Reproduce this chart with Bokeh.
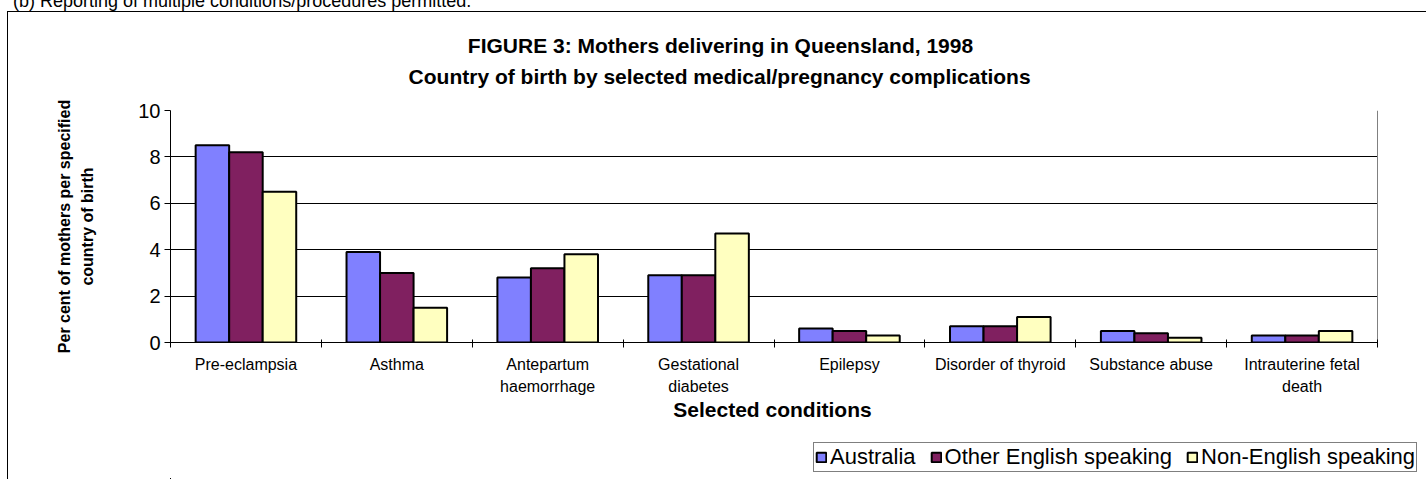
from bokeh.plotting import figure
from bokeh.layouts import column
from bokeh.models import (Range1d, FixedTicker, ColumnDataSource, Legend, LegendItem, Label, Grid, Div)
from bokeh.transform import dodge
from bokeh.embed import file_html
from bokeh.resources import INLINE

categories = ["Pre-eclampsia", "Asthma", "Antepartum\nhaemorrhage", "Gestational\ndiabetes",
              "Epilepsy", "Disorder of thyroid", "Substance abuse", "Intrauterine fetal\ndeath"]
australia = [8.5, 3.9, 2.8, 2.9, 0.6, 0.7, 0.5, 0.3]
other_english = [8.2, 3.0, 3.2, 2.9, 0.5, 0.7, 0.4, 0.3]
non_english = [6.5, 1.5, 3.8, 4.7, 0.3, 1.1, 0.2, 0.5]
series_names = ["Australia", "Other English speaking", "Non-English speaking"]
y_ticks = [0, 2, 4, 6, 8, 10]

note = "(b) Reporting of multiple conditions/procedures permitted."
title1 = "FIGURE 3: Mothers delivering in Queensland, 1998"
title2 = "Country of  birth by selected medical/pregnancy complications"
ylabel = "Per cent of mothers per specified\ncountry of birth"
xlabel = "Selected conditions"

FONT = "Liberation Sans"
colors = ["#8080FF", "#802060", "#FFFFC0"]

n = len(categories)
centers = [i + 0.5 for i in range(n)]
source = ColumnDataSource(dict(x=centers, aus=australia, oth=other_english, non=non_english))

W = 1418                    # canvas spans page x 8..1426
LEFT = 162                  # frame left at page x 170
PLOT_W = 1207               # plot area 170..1377 (page)
FRAME_W = W - LEFT          # frame reaches the right edge (needed for the legend)
x_end = n * FRAME_W / PLOT_W

TH, PH = 80, 306
LH = 479 - 12 - TH - PH

# ---------- title strip ----------
tf = figure(width=W, height=TH, x_range=Range1d(0, 1), y_range=Range1d(0, 1),
            output_backend="svg", toolbar_location=None, min_border=0,
            x_axis_type=None, y_axis_type=None)
tf.outline_line_color = None
tf.grid.visible = False

def lab(fig, x, y, text, size, bold=False):
    fig.add_layout(Label(x=x, y=y, x_units="screen", y_units="screen", text=text,
                         text_font=FONT, text_font_size=size,
                         text_font_style="bold" if bold else "normal",
                         text_align="center", text_baseline="middle", text_color="black"))

lab(tf, 720 - 170, TH - (45 - 12), title1, "21px", True)
lab(tf, 722 - 170, TH - (76 - 12), title2, "21px", True)

# ---------- main chart ----------
p = figure(width=W, height=PH, x_range=Range1d(0, x_end), y_range=Range1d(0, 10),
           output_backend="svg", toolbar_location=None,
           min_border_left=LEFT, min_border_right=0,
           min_border_top=110 - 12 - TH, min_border_bottom=PH - (342 - 12 - TH))
p.background_fill_color = "white"
p.border_fill_color = "white"
p.outline_line_color = None

bw = 0.2222
for off, col, c in zip([-bw, 0, bw], ["aus", "oth", "non"], colors):
    p.vbar(x=dodge("x", off), top=col, width=bw, bottom=0, source=source,
           fill_color=c, line_color="black", line_width=2)

yax = p.yaxis[0]
yax.ticker = FixedTicker(ticks=y_ticks, minor_ticks=[])
yax.axis_line_color = "black"
yax.major_tick_out = 6
yax.major_tick_in = 0
yax.minor_tick_out = 0
yax.major_label_text_font = FONT
yax.major_label_text_font_size = "20px"
yax.major_label_text_color = "black"
yax.major_label_standoff = 4
yax.axis_label = ylabel
yax.axis_label_text_font = FONT
yax.axis_label_text_font_size = "16px"
yax.axis_label_text_font_style = "bold"
yax.axis_label_text_color = "black"
yax.axis_label_text_line_height = 1.35
yax.axis_label_standoff = 39

xax = p.xaxis[0]
xax.bounds = (0, n)
xax.ticker = FixedTicker(ticks=centers, minor_ticks=list(range(n + 1)))
xax.major_label_overrides = {c: lab_ for c, lab_ in zip(centers, categories)}
xax.major_tick_out = 0
xax.major_tick_in = 0
xax.minor_tick_out = 5
xax.minor_tick_in = 3
xax.minor_tick_line_color = "black"
xax.axis_line_color = "black"
xax.major_label_text_font = FONT
xax.major_label_text_font_size = "16px"
xax.major_label_text_color = "black"
xax.major_label_standoff = 8
xax.major_label_text_line_height = 1.35

p.xgrid.visible = False
p.ygrid.ticker = FixedTicker(ticks=[2, 4, 6, 8])
p.ygrid.grid_line_color = "black"
p.ygrid.grid_line_width = 1
p.ygrid.cross_bounds = (0, n)
p.add_layout(Grid(dimension=1, ticker=FixedTicker(ticks=[10]), cross_bounds=(0, n),
                  grid_line_color="#808080", grid_line_width=1))
p.add_layout(Grid(dimension=0, ticker=FixedTicker(ticks=[n]),
                  grid_line_color="#808080", grid_line_width=1))

# ---------- x title + legend strip (bars here lie outside its ranges; only the legend shows) ----------
lf = figure(width=W, height=LH, x_range=Range1d(12, 13), y_range=Range1d(20, 21),
            output_backend="svg", toolbar_location=None, min_border=0,
            x_axis_type=None, y_axis_type=None)
lf.outline_line_color = None
lf.grid.visible = False
items = []
for off, col, s, c in zip([-bw, 0, bw], ["aus", "oth", "non"], series_names, colors):
    r = lf.vbar(x=dodge("x", off), top=col, width=bw, bottom=0, source=source,
                fill_color=c, line_color="black", line_width=2)
    items.append(LegendItem(label=s, renderers=[r]))
legend = Legend(items=items, location=(813 - 170, 479 - 472), orientation="horizontal")
legend.label_text_font = FONT
legend.label_text_font_size = "22px"
legend.label_text_color = "black"
legend.glyph_width = 12
legend.glyph_height = 12
legend.label_standoff = 3
legend.spacing = 14
legend.padding = 1
legend.margin = 0
legend.label_height = 18
legend.border_line_color = "black"
legend.border_line_width = 1
legend.background_fill_alpha = 1
lf.add_layout(legend, "center")
lab(lf, 772 - 170, LH - (409 - (12 + TH + PH)), xlabel, "21px", True)

chart = column(tf, p, lf, spacing=0)
chart.styles = {"margin-left": "7px", "margin-top": "-3px",
                "border-left": "1px solid black", "border-top": "1px solid black"}

note_div = Div(text=note, width=700, height=16,
               styles={"margin-top": "-7px", "margin-left": "13px",
                       "font-family": FONT, "font-size": "18px", "line-height": "16px",
                       "color": "black", "white-space": "nowrap"})

root = column(note_div, chart, spacing=0)

open("out.html", "w").write(file_html(root, INLINE))
